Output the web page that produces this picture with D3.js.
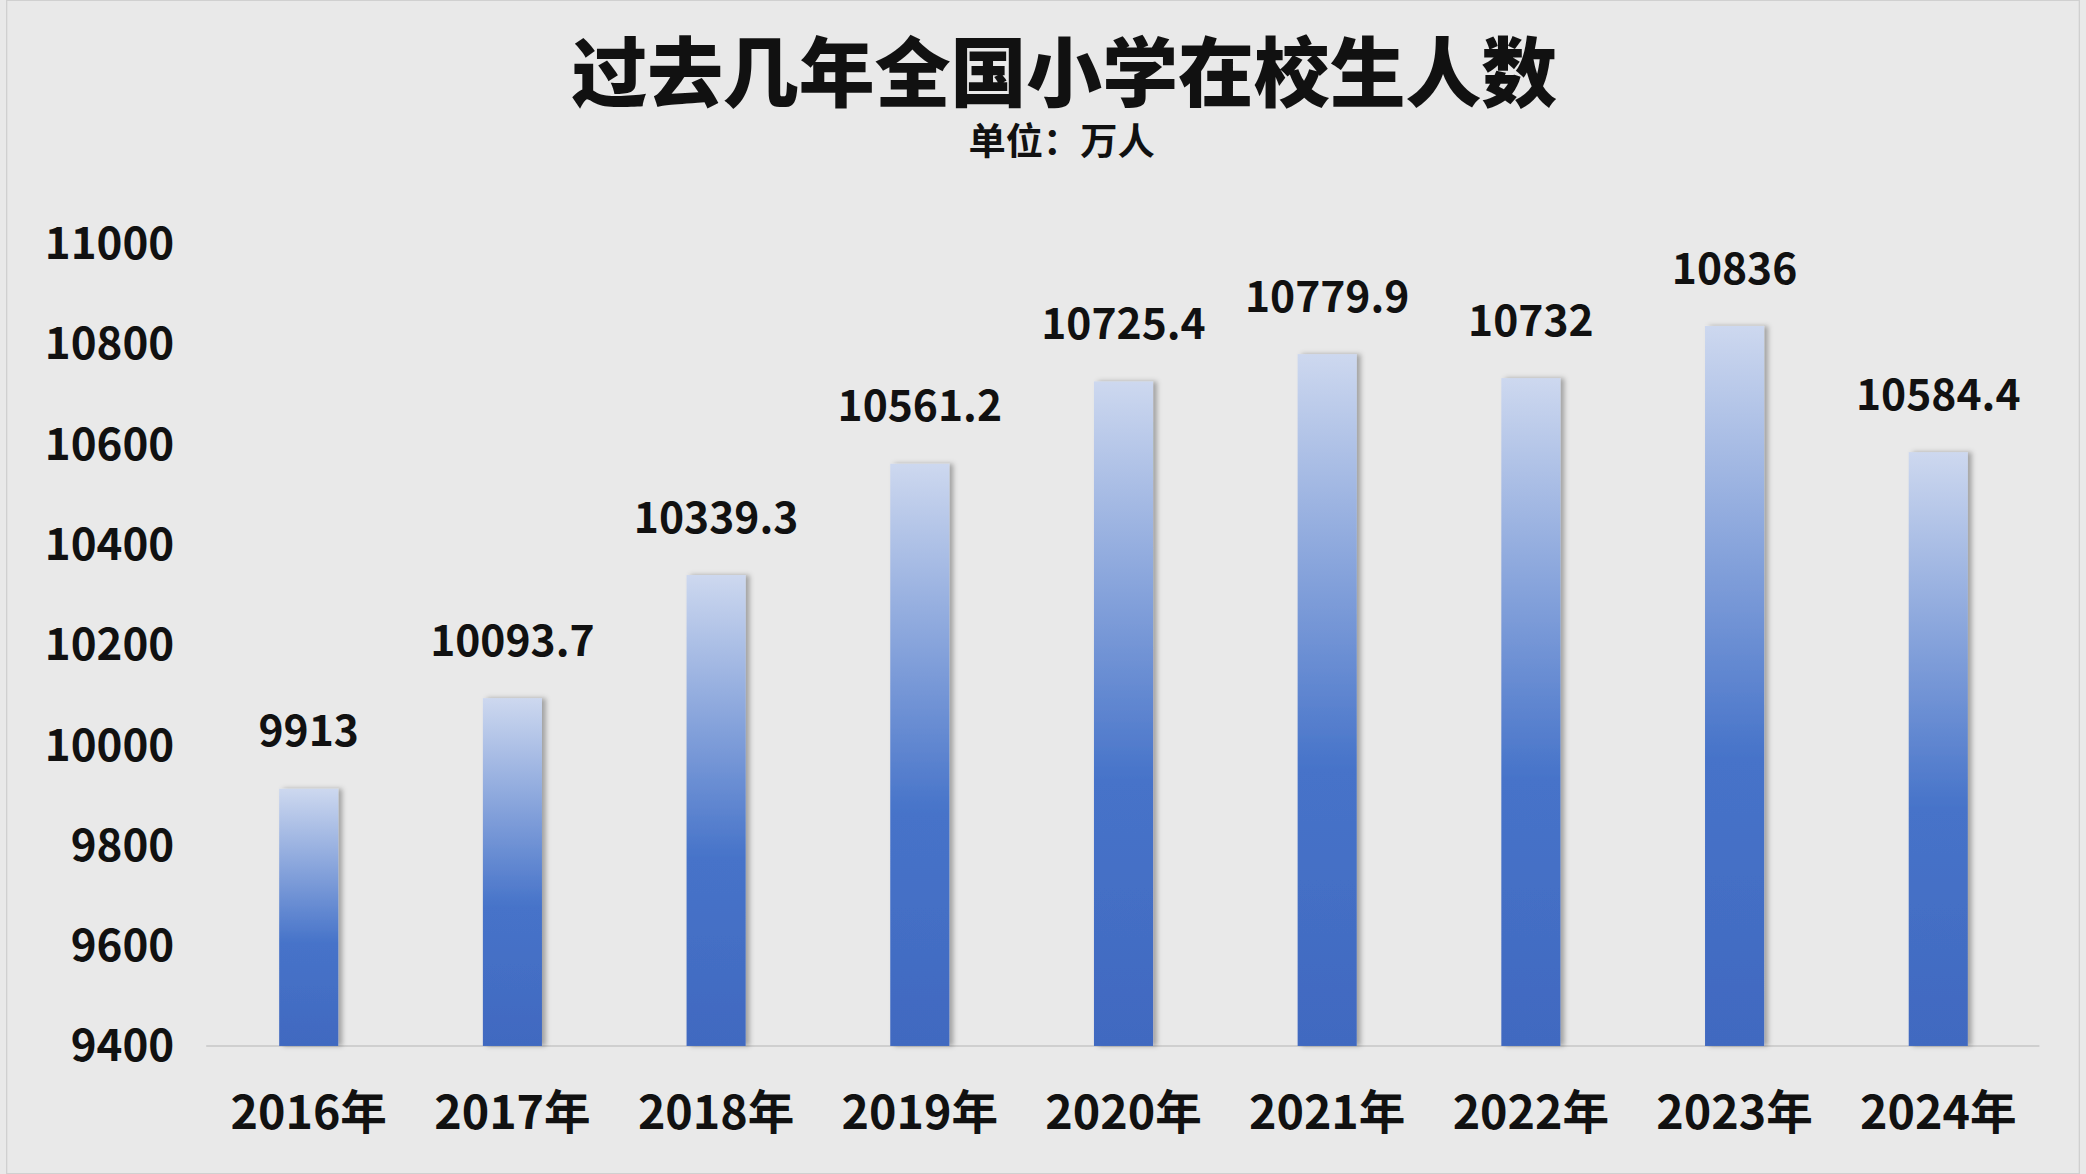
<!DOCTYPE html>
<html><head><meta charset="utf-8">
<script src="https://cdn.jsdelivr.net/npm/d3@7"></script>
<style>body{margin:0;background:#e9e9e9;overflow:hidden}</style>
</head><body>
<svg id="c" width="2086" height="1174" viewBox="0 0 1568 882"></svg>
<script>
const years = ["2016年","2017年","2018年","2019年","2020年","2021年","2022年","2023年","2024年"];
const values = [9913,10093.7,10339.3,10561.2,10725.4,10779.9,10732,10836,10584.4];
const labels = ["9913","10093.7","10339.3","10561.2","10725.4","10779.9","10732","10836","10584.4"];
const yTicks = [9400,9600,9800,10000,10200,10400,10600,10800,11000];

const svg = d3.select("#c");
const font = "'Noto Sans CJK SC','Noto Sans',sans-serif";
svg.append("rect").attr("x",5).attr("y",0).attr("width",1558).attr("height",882).attr("fill","#e9e9e9").attr("stroke","#d0d0d0");
const defs = svg.append("defs");
const g = defs.append("linearGradient").attr("id","bg").attr("x1",0).attr("y1",0).attr("x2",0).attr("y2",1);
g.append("stop").attr("offset","0").attr("stop-color","#cdd8ef");
g.append("stop").attr("offset","0.6").attr("stop-color","#4673c9");
g.append("stop").attr("offset","1").attr("stop-color","#4169c0");
const f = defs.append("filter").attr("id","sh").attr("x","-20%").attr("width","150%");
f.append("feDropShadow").attr("dx",3).attr("dy",0).attr("stdDeviation",2).attr("flood-color","#000").attr("flood-opacity",0.3);

const x = d3.scaleBand().domain(years).range([155.5,1533.5]).paddingInner(0.71).paddingOuter(0.355);
const y = d3.scaleLinear().domain([9400,11000]).range([786,183]);

svg.append("text").attr("x",800).attr("y",76).attr("text-anchor","middle").attr("font-family",font).attr("font-weight",900).attr("font-size",57).attr("fill","#111").text("过去几年全国小学在校生人数");
svg.append("text").attr("x",798).attr("y",116).attr("text-anchor","middle").attr("font-family",font).attr("font-weight",700).attr("font-size",28).attr("fill","#111").text("单位：万人");

svg.append("g").selectAll("text").data(yTicks).join("text")
 .attr("x",131).attr("y",d=>y(d)).attr("dy","0.35em").attr("text-anchor","end")
 .attr("font-family",font).attr("font-weight",700).attr("font-size",33).attr("fill","#111").text(d=>d);

svg.append("line").attr("x1",155).attr("x2",1533).attr("y1",786).attr("y2",786).attr("stroke","#cfcfcf").attr("stroke-width",1.5);

svg.append("g").selectAll("rect").data(values).join("rect")
 .attr("x",(d,i)=>x(years[i])).attr("width",x.bandwidth())
 .attr("y",d=>y(d)).attr("height",d=>786-y(d))
 .attr("fill","url(#bg)").attr("filter","url(#sh)");

svg.append("g").selectAll("text").data(values).join("text")
 .attr("x",(d,i)=>x(years[i])+x.bandwidth()/2).attr("y",d=>y(d)-43)
 .attr("dy","0.35em").attr("text-anchor","middle")
 .attr("font-family",font).attr("font-weight",700).attr("font-size",32).attr("fill","#111").text((d,i)=>labels[i]);

svg.append("g").selectAll("text").data(years).join("text")
 .attr("x",d=>x(d)+x.bandwidth()/2).attr("y",836).attr("dy","0.35em").attr("text-anchor","middle")
 .attr("font-family",font).attr("font-weight",700).attr("font-size",35).attr("fill","#111").text(d=>d);
</script>
</body></html>
